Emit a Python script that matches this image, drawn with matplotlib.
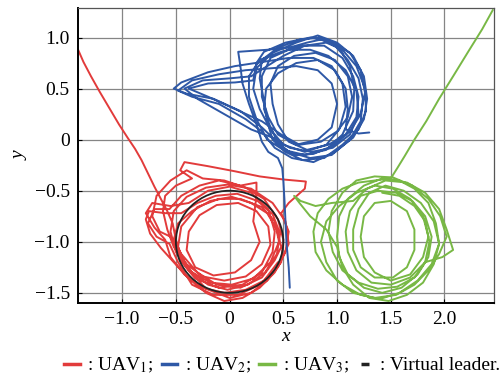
"""Formation trajectories of three UAVs around a virtual leader."""

import numpy as np
import matplotlib
matplotlib.use("Agg")
import matplotlib.pyplot as plt
from matplotlib.lines import Line2D
from matplotlib.patches import Circle

plt.rcParams["font.family"] = ["Liberation Serif", "DejaVu Serif"]
plt.rcParams["mathtext.fontset"] = "stix"

# UAV1 (red): approach from the upper left, then circling the leader
uav1_xy = [
    (-1.41, 0.88), (-1.36, 0.76), (-1.29, 0.62), (-1.21, 0.47), (-1.12, 0.31),
    (-1.03, 0.15), (-0.95, 0.02), (-0.88, -0.09), (-0.82, -0.20), (-0.76, -0.33),
    (-0.70, -0.46), (-0.64, -0.58), (-0.58, -0.70), (-0.53, -0.82),
    (-0.50, -0.98), (-0.45, -1.15), (-0.35, -1.30), (-0.20, -1.42), (-0.02, -1.47),
    (0.17, -1.42), (0.33, -1.30), (0.44, -1.12), (0.47, -0.92), (0.40, -0.73),
    (0.26, -0.60), (0.07, -0.53), (-0.13, -0.55), (-0.30, -0.62), (-0.45, -0.72),
    (-0.60, -0.72), (-0.75, -0.70), (-0.78, -0.78), (-0.74, -0.92), (-0.64, -1.06),
    (-0.52, -1.20), (-0.38, -1.36), (-0.22, -1.50), (-0.05, -1.58), (0.12, -1.55),
    (0.28, -1.45), (0.42, -1.30), (0.52, -1.10), (0.55, -0.90), (0.48, -0.72),
    (0.55, -0.62), (0.70, -0.48), (0.71, -0.41), (0.50, -0.39), (0.28, -0.36),
    (0.05, -0.31), (-0.20, -0.26), (-0.42, -0.22), (-0.46, -0.30), (-0.35, -0.38),
    (-0.50, -0.45), (-0.60, -0.55), (-0.62, -0.70), (-0.58, -0.88), (-0.52, -1.05),
    (-0.40, -1.22), (-0.25, -1.34), (-0.05, -1.38), (0.15, -1.34), (0.30, -1.22),
    (0.38, -1.03), (0.36, -0.85), (0.25, -0.70), (0.08, -0.62), (-0.12, -0.64),
    (-0.28, -0.74), (-0.38, -0.90), (-0.40, -1.08), (-0.32, -1.25), (-0.15, -1.33),
    (0.05, -1.30), (0.20, -1.18), (0.28, -1.00), (0.22, -0.80), (0.25, -0.55),
    (0.25, -0.42), (0.10, -0.45), (-0.10, -0.40), (-0.28, -0.45), (-0.45, -0.55),
    (-0.56, -0.68), (-0.70, -0.68), (-0.76, -0.82), (-0.68, -0.95), (-0.56, -1.02),
    (-0.48, -1.20), (-0.35, -1.42), (-0.15, -1.52), (0.08, -1.52), (0.28, -1.42),
    (0.45, -1.25), (0.55, -1.02), (0.52, -0.80), (0.40, -0.62), (0.20, -0.48),
    (-0.02, -0.44), (-0.22, -0.47), (-0.40, -0.56), (-0.52, -0.70), (-0.55, -0.90),
    (-0.50, -1.10), (-0.38, -1.28), (-0.18, -1.40), (0.02, -1.42), (0.22, -1.36),
    (0.38, -1.20), (0.46, -1.00), (0.42, -0.80), (0.30, -0.66), (0.10, -0.58),
    (-0.10, -0.58), (-0.30, -0.66), (-0.45, -0.85), (-0.48, -1.05), (-0.40, -1.25),
    (-0.22, -1.46), (0.00, -1.55), (0.20, -1.50), (0.35, -1.38),
    (0.48, -1.20), (0.50, -0.98), (0.45, -0.78), (0.32, -0.58), (0.15, -0.47),
    (-0.05, -0.40), (-0.25, -0.38), (-0.40, -0.30), (-0.55, -0.40), (-0.68, -0.55),
    (-0.72, -0.75), (-0.65, -0.90), (-0.55, -0.95), (-0.45, -1.12), (-0.30, -1.30),
    (-0.12, -1.42), (0.10, -1.45), (0.30, -1.35), (0.42, -1.18), (0.48, -1.05),
    (0.44, -0.88), (0.35, -0.72), (0.20, -0.62), (0.02, -0.56), (-0.18, -0.60),
    (-0.35, -0.70), (-0.48, -0.82), (-0.52, -0.98), (-0.46, -1.18), (-0.32, -1.36),
    (-0.10, -1.45), (0.12, -1.42), (0.30, -1.30), (0.40, -1.10), (0.42, -0.90),
    (0.36, -0.68), (0.20, -0.52), (0.00, -0.46), (-0.20, -0.50), (-0.38, -0.62),
    (-0.55, -0.65), (-0.72, -0.62), (-0.78, -0.72), (-0.70, -0.86), (-0.60, -0.98),
    (-0.55, -1.15), (-0.42, -1.32), (-0.25, -1.45), (-0.05, -1.50), (0.15, -1.47),
    (0.32, -1.38), (0.45, -1.20),
]

# UAV2 (blue): rising from below, then looping in the upper region
uav2_xy = [
    (0.56, -1.45), (0.55, -1.25), (0.53, -1.02), (0.52, -0.80), (0.51, -0.58),
    (0.50, -0.40), (0.49, -0.28), (0.45, -0.18), (0.36, -0.12), (0.30, -0.02),
    (0.25, 0.15), (0.18, 0.35), (0.12, 0.55), (0.10, 0.72), (0.08, 0.86),
    (0.35, 0.88), (0.55, 0.90), (0.72, 0.95), (0.85, 0.98), (0.98, 0.92),
    (1.10, 0.78), (1.20, 0.60), (1.24, 0.40), (1.22, 0.18), (1.12, 0.00),
    (0.95, -0.15), (0.75, -0.18), (0.55, -0.12), (0.42, 0.00),
    (0.30, 0.12), (0.10, 0.28), (-0.15, 0.40), (-0.40, 0.45), (-0.52, 0.50),
    (-0.45, 0.56), (-0.20, 0.66), (0.05, 0.72), (0.30, 0.76), (0.55, 0.80),
    (0.78, 0.80), (0.95, 0.72), (1.05, 0.55), (1.08, 0.32), (1.02, 0.10),
    (0.90, -0.05), (0.70, -0.12), (0.50, -0.05), (0.38, 0.10),
    (0.28, 0.30), (0.22, 0.50), (0.25, 0.70), (0.40, 0.85), (0.62, 0.95),
    (0.82, 1.02), (1.00, 0.95), (1.15, 0.82), (1.25, 0.62), (1.28, 0.40),
    (1.25, 0.20), (1.15, 0.02), (0.98, -0.12), (0.78, -0.22), (0.58, -0.18),
    (0.42, -0.08), (0.30, 0.08),
    (0.15, 0.20), (-0.10, 0.35), (-0.35, 0.42), (-0.48, 0.48), (-0.35, 0.58),
    (-0.10, 0.64), (0.15, 0.68), (0.40, 0.70), (0.62, 0.72), (0.82, 0.68),
    (0.95, 0.55), (1.00, 0.35), (0.95, 0.12), (0.82, 0.00), (0.62, -0.05),
    (0.45, 0.05), (0.36, 0.22),
    (0.30, 0.42), (0.30, 0.62), (0.38, 0.80), (0.55, 0.88), (0.75, 0.88),
    (0.92, 0.82), (1.08, 0.68), (1.18, 0.48), (1.20, 0.25), (1.12, 0.05),
    (0.96, -0.08), (0.76, -0.12), (0.56, -0.08), (0.40, 0.02), (0.20, 0.10),
    (-0.05, 0.25), (-0.30, 0.40), (-0.42, 0.50), (-0.25, 0.58), (0.00, 0.60),
    (0.20, 0.62), (0.35, 0.72), (0.50, 0.82), (0.70, 0.92), (0.90, 0.95),
    (1.05, 0.88), (1.18, 0.72), (1.26, 0.50), (1.27, 0.28), (1.20, 0.10),
    (1.05, -0.05), (0.88, -0.18), (0.68, -0.20), (0.52, -0.12), (0.40, 0.00),
    (0.35, 0.18), (0.32, 0.38), (0.28, 0.60), (0.30, 0.78), (0.45, 0.90),
    (0.65, 0.98), (0.85, 1.00), (1.02, 0.90), (1.12, 0.72), (1.16, 0.50),
    (1.15, 0.28), (1.05, 0.05), (0.90, -0.10), (0.70, -0.15), (0.50, -0.10),
    (0.35, 0.00), (0.25, 0.20), (0.18, 0.42), (0.18, 0.62), (0.28, 0.78),
    (0.48, 0.86), (0.68, 0.92), (0.88, 0.92), (1.05, 0.80), (1.15, 0.62),
    (1.20, 0.42), (1.18, 0.22), (1.08, 0.05), (0.92, -0.05), (0.72, -0.10),
    (0.55, -0.02), (0.45, 0.15), (0.40, 0.35), (0.38, 0.55), (0.45, 0.72),
    (0.60, 0.82), (0.80, 0.85), (0.98, 0.78), (1.10, 0.62), (1.14, 0.42),
    (1.10, 0.22), (1.00, 0.08), (0.85, -0.02), (0.65, -0.05), (0.48, 0.05),
    (0.30, 0.18), (0.05, 0.30), (-0.20, 0.42), (-0.38, 0.50), (-0.20, 0.55),
    (0.05, 0.56), (0.22, 0.58), (0.25, 0.75), (0.32, 0.86), (0.52, 0.95),
    (0.75, 1.00), (0.95, 0.96), (1.12, 0.85), (1.22, 0.68), (1.26, 0.46),
    (1.22, 0.25), (1.12, 0.08), (0.96, -0.06), (0.78, -0.14), (0.60, -0.15),
    (0.46, -0.05), (0.38, 0.12), (0.32, 0.30), (0.34, 0.50), (0.45, 0.65),
    (0.62, 0.75), (0.82, 0.78), (0.98, 0.68), (1.08, 0.50), (1.10, 0.30),
    (1.08, 0.10), (1.20, 0.06), (1.30, 0.07),
]

# UAV3 (green): coming in from the upper right, looping to the lower right
uav3_xy = [
    (2.45, 1.27), (2.35, 1.08), (2.22, 0.86), (2.08, 0.62), (1.95, 0.40),
    (1.83, 0.18), (1.72, 0.00), (1.63, -0.16), (1.56, -0.28), (1.50, -0.38),
    (1.35, -0.40), (1.20, -0.42), (1.05, -0.48), (0.92, -0.58), (0.82, -0.72),
    (0.78, -0.90), (0.80, -1.10), (0.90, -1.28), (1.05, -1.42), (1.22, -1.52),
    (1.40, -1.56), (1.58, -1.50), (1.75, -1.38), (1.88, -1.22), (1.95, -1.02),
    (1.92, -0.82), (1.85, -0.62), (1.72, -0.48), (1.58, -0.40), (1.42, -0.38),
    (1.25, -0.45), (1.10, -0.58), (1.02, -0.75), (1.00, -0.95), (1.02, -1.15),
    (1.10, -1.32), (1.25, -1.45), (1.42, -1.50), (1.60, -1.45), (1.75, -1.32),
    (1.85, -1.15), (1.88, -0.95), (1.82, -0.75), (1.70, -0.60), (1.55, -0.52),
    (1.38, -0.50), (1.22, -0.55), (1.12, -0.70), (1.08, -0.90), (1.10, -1.10),
    (1.18, -1.28), (1.32, -1.40), (1.50, -1.42), (1.68, -1.35), (1.82, -1.20),
    (1.98, -1.15), (2.08, -1.08), (2.02, -0.88), (1.95, -0.68), (1.82, -0.52),
    (1.65, -0.42), (1.45, -0.40), (1.28, -0.48), (1.15, -0.60), (0.95, -0.62),
    (0.80, -0.65), (0.66, -0.60), (0.60, -0.55), (0.65, -0.62), (0.75, -0.75),
    (0.90, -0.88), (1.00, -1.05), (1.05, -1.25), (1.15, -1.42), (1.30, -1.55),
    (1.48, -1.58), (1.65, -1.52), (1.80, -1.40), (1.90, -1.22), (1.95, -1.02),
    (1.90, -0.80), (1.78, -0.62), (1.62, -0.50), (1.45, -0.45), (1.30, -0.52),
    (1.20, -0.68), (1.15, -0.88), (1.15, -1.08), (1.22, -1.25), (1.35, -1.35),
    (1.52, -1.35), (1.65, -1.25), (1.72, -1.08), (1.72, -0.88), (1.65, -0.70),
    (1.50, -0.60), (1.35, -0.62),
    (1.25, -0.75), (1.22, -0.95), (1.25, -1.15), (1.35, -1.30), (1.50, -1.38),
    (1.68, -1.32), (1.80, -1.15), (1.85, -0.95), (1.80, -0.75), (1.68, -0.58),
    (1.52, -0.48), (1.35, -0.45), (1.18, -0.52), (1.02, -0.65), (0.90, -0.80),
    (0.85, -1.00), (0.90, -1.20), (1.00, -1.38), (1.15, -1.50), (1.35, -1.55),
    (1.55, -1.52), (1.72, -1.42), (1.85, -1.28), (1.95, -1.12), (2.02, -0.95),
    (1.96, -0.75), (1.85, -0.58), (1.70, -0.45), (1.52, -0.37), (1.35, -0.36),
    (1.18, -0.40), (1.05, -0.52), (0.95, -0.70), (0.92, -0.90), (0.96, -1.10),
    (1.05, -1.28), (1.20, -1.40), (1.38, -1.46), (1.56, -1.44), (1.72, -1.35),
    (1.82, -1.20), (1.86, -1.00), (1.82, -0.80), (1.72, -0.65), (1.58, -0.55),
    (1.42, -0.52),
]

# virtual leader: circle of radius 0.5 around (0, -1)
leader_center = (0.0, -1.0)
leader_radius = 0.5

x_ticks = [-1.0, -0.5, 0.0, 0.5, 1.0, 1.5, 2.0]
x_tick_labels = ["\u22121.0", "\u22120.5", "0", "0.5", "1.0", "1.5", "2.0"]
y_ticks = [-1.5, -1.0, -0.5, 0.0, 0.5, 1.0]
y_tick_labels = ["\u22121.5", "\u22121.0", "\u22120.5", "0", "0.5", "1.0"]

colors = {"uav1": "#e23b3b", "uav2": "#2e58a6", "uav3": "#78b845", "leader": "#222222"}

fig = plt.figure(figsize=(5.04, 3.76), dpi=100)
ax = fig.add_axes([0.155, 0.194, 0.825, 0.785])

for key, pts in (("uav1", uav1_xy), ("uav2", uav2_xy), ("uav3", uav3_xy)):
    arr = np.array(pts)
    ax.plot(arr[:, 0], arr[:, 1], color=colors[key], lw=1.4,
            solid_joinstyle="round", solid_capstyle="round")

ax.add_patch(Circle(leader_center, leader_radius, fill=False,
                    edgecolor=colors["leader"], lw=1.3, zorder=3))

ax.set_xlim(-1.41, 2.46)
ax.set_ylim(-1.60, 1.29)
ax.set_xticks(x_ticks)
ax.set_xticklabels(x_tick_labels)
ax.set_yticks(y_ticks)
ax.set_yticklabels(y_tick_labels)
ax.tick_params(labelsize=14, length=3, direction="in", pad=6)
ax.grid(True, color="#858585", lw=0.9)

for side in ("left", "bottom"):
    ax.spines[side].set_linewidth(1.4)
    ax.spines[side].set_color("black")
for side in ("top", "right"):
    ax.spines[side].set_linewidth(0.9)
    ax.spines[side].set_color("#555555")

ax.set_xlabel("x", fontsize=14, style="italic", labelpad=0)
ax.set_ylabel("y", fontsize=14, style="italic", labelpad=4)

handles = [
    Line2D([], [], color=colors["uav1"], lw=2.5),
    Line2D([], [], color=colors["uav2"], lw=2.5),
    Line2D([], [], color=colors["uav3"], lw=2.5),
    Line2D([], [], color=colors["leader"], marker="_", ls="none", ms=6, mew=2.5),
]
labels = [": UAV$_1$;", ": UAV$_2$;", ": UAV$_3$;", ": Virtual leader."]
fig.legend(handles, labels, loc="center", bbox_to_anchor=(0.56, 0.028), ncol=4,
           frameon=False, fontsize=14, handlelength=0.8, handletextpad=0.4,
           columnspacing=0.4, borderaxespad=0, borderpad=0)

fig.savefig("out.png", dpi=100)
